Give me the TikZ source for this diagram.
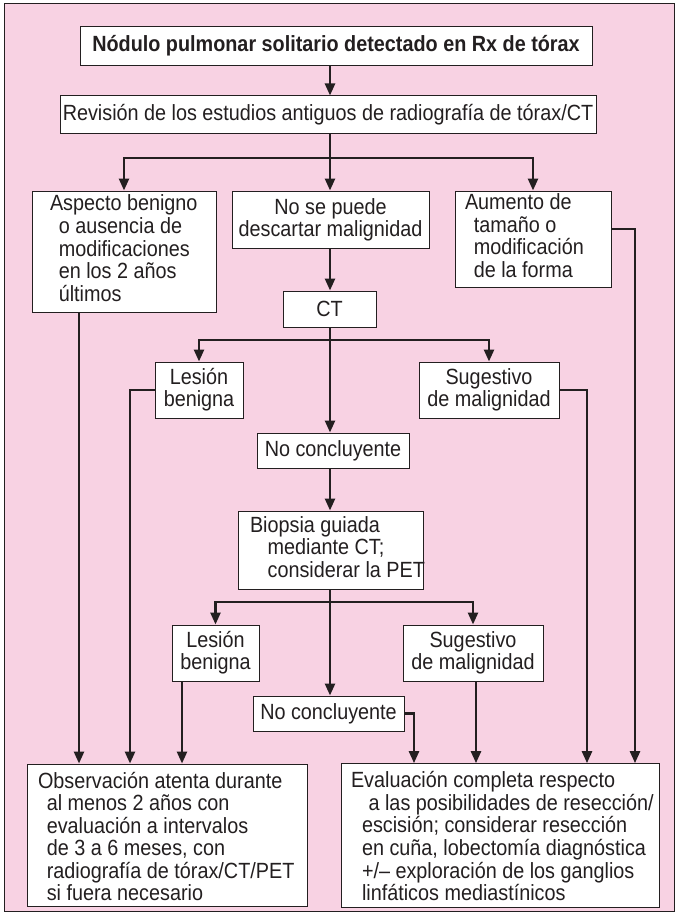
\documentclass[tikz,border=0pt]{standalone}
\usepackage{fontspec}
\setmainfont{Liberation Sans}[FakeStretch=0.9]
\usetikzlibrary{arrows.meta}

\definecolor{bgpink}{RGB}{248,210,227}
\definecolor{ink}{RGB}{35,31,32}

% indentation of continuation lines
\newcommand{\ind}[1][0.4em]{\hspace*{#1}}
% left-aligned block of fixed width (lines never wrap)
\newcommand{\lblock}[2]{\makebox[#1][l]{\begin{tabular}{@{}l@{}}#2\end{tabular}}}
% extra head room above the first line of a block
\newcommand{\headroom}{\rule{0pt}{24pt}}

\begin{document}
\begin{tikzpicture}[x=1pt,y=-1pt,
  box/.style={draw=ink, line width=1pt, fill=white, inner sep=0pt, text=ink,
    font=\fontsize{22}{22}\selectfont, align=center},
  link/.style={draw=ink, line width=2.5pt, line join=miter},
  arr/.style={link, -{Triangle[length=12pt,width=10pt]}}]

\useasboundingbox (0,0) rectangle (678,915);
\draw[fill=bgpink, draw=ink, line width=1pt] (4,4) rectangle (674,911);

% ---- boxes ----
\node[box, font=\bfseries\fontsize{22}{22}\selectfont,
  minimum width=512pt, minimum height=39pt] (t1) at (336,46)
  {Nódulo pulmonar solitario detectado en Rx de tórax};
\node[box, minimum width=536pt, minimum height=38pt] (t2) at (328,115)
  {Revisión de los estudios antiguos de radiografía de tórax/CT};

\node[box, minimum width=184pt, minimum height=121pt] (a) at (124,251.5)
  {\lblock{148pt}{Aspecto benigno\\\ind o ausencia de\\\ind modificaciones\\\ind en los 2 años\\\ind últimos}};
\node[box, minimum width=197pt, minimum height=57pt] (b) at (330.5,219.5)
  {No se puede\\descartar malignidad};
\node[box, minimum width=156pt, minimum height=96pt] (c) at (533,239)
  {\lblock{136pt}{Aumento de\\\ind tamaño o\\\ind modificación\\\ind de la forma}};

\node[box, minimum width=93pt, minimum height=36pt] (ct) at (329.5,309) {CT};

\node[box, minimum width=88pt, minimum height=56pt] (l1) at (199,390) {Lesión\\benigna};
\node[box, minimum width=140pt, minimum height=56pt] (s1) at (489,390) {Sugestivo\\de malignidad};
\node[box, minimum width=152pt, minimum height=35pt] (n1) at (333,450.5) {No concluyente};

\node[box, minimum width=185pt, minimum height=78pt] (bi) at (330.5,550)
  {\lblock{161pt}{Biopsia guiada\\\ind[0.55em] mediante CT;\\\ind[0.55em] considerar la PET}};

\node[box, minimum width=87pt, minimum height=56pt] (l2) at (215.5,653) {Lesión\\benigna};
\node[box, minimum width=140pt, minimum height=56pt] (s2) at (473,653) {Sugestivo\\de malignidad};
\node[box, minimum width=151pt, minimum height=35pt] (n2) at (328.5,713.5) {No concluyente};

\node[box, font=\fontsize{22}{21.5}\selectfont,
  minimum width=280pt, minimum height=139pt] (bl) at (167,835.5)
  {\lblock{258pt}{\headroom Observación atenta durante\\\ind al menos 2 años con\\\ind evaluación a intervalos\\\ind de 3 a 6 meses, con\\\ind radiografía de tórax/CT/PET\\\ind si fuera necesario}};
\node[box, font=\fontsize{22}{21.5}\selectfont,
  minimum width=318pt, minimum height=139pt] (br) at (500,835.5)
  {\lblock{298pt}{\headroom Evaluación completa respecto\\\ind[0.55em] a las posibilidades de resección/\\\ind[0.25em] escisión; considerar resección\\\ind[0.25em] en cuña, lobectomía diagnóstica\\\ind[0.25em] +/– exploración de los ganglios\\\ind[0.25em] linfáticos mediastínicos}};

% ---- junctions and lanes ----
\coordinate (ax) at (330,0);
\coordinate (j1) at (330,158);
\coordinate (j2) at (330,340);
\coordinate (j3) at (330,602);
\coordinate (xa) at (79,0);
\coordinate (xb) at (130,0);
\coordinate (xc) at (182,0);
\coordinate (xe) at (414,0);
\coordinate (xf) at (476,0);
\coordinate (xg) at (587,0);
\coordinate (xh) at (635,229);

% ---- main column ----
\draw[arr] (t1.south -| ax) -- (t2.north -| ax);
\draw[link] (t2.south -| ax) -- (j1);
\draw[arr] (j1) -| (a.north);
\draw[arr] (j1) -| (c.north);
\draw[arr] (j1) -- (b.north -| j1);
\draw[arr] (b.south -| ax) -- (ct.north -| ax);
\draw[link] (ct.south -| ax) -- (j2);
\draw[arr] (j2) -| (l1.north);
\draw[arr] (j2) -| (s1.north);
\draw[arr] (j2) -- (n1.north -| j2);
\draw[arr] (n1.south -| ax) -- (bi.north -| ax);
\draw[link] (bi.south -| ax) -- (j3);
\draw[arr] (j3) -| (l2.north);
\draw[arr] (j3) -| (s2.north);
\draw[arr] (j3) -- (n2.north -| j3);

% ---- into observation box ----
\draw[arr] (a.south -| xa) -- (bl.north -| xa);
\draw[arr] (l1.west) -| (bl.north -| xb);
\draw[arr] (l2.south -| xc) -- (bl.north -| xc);

% ---- into evaluation box ----
\draw[arr] (n2.east) -| (br.north -| xe);
\draw[arr] (s2.south -| xf) -- (br.north -| xf);
\draw[arr] (s1.east) -| (br.north -| xg);
\draw[arr] (c.east |- xh) -| (br.north -| xh);
\end{tikzpicture}
\end{document}
